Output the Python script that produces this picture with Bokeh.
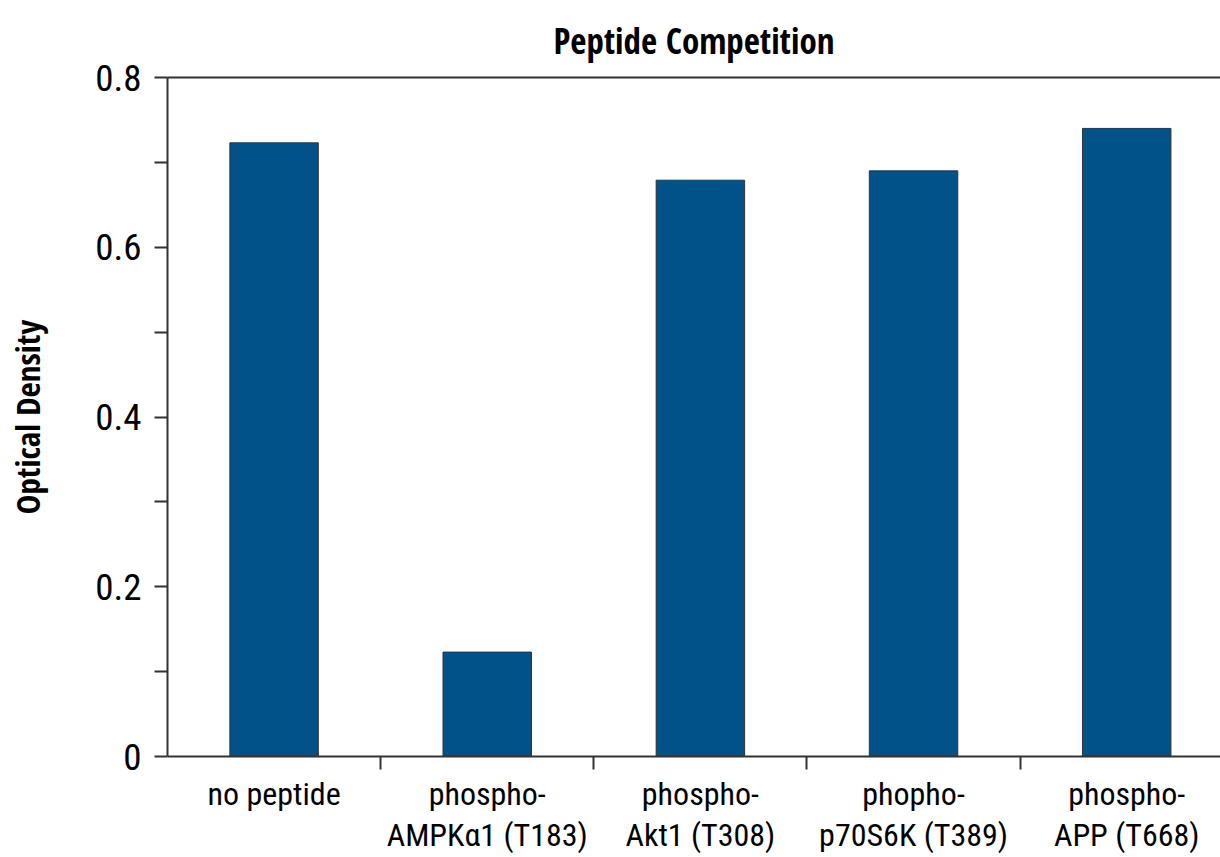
from bokeh.plotting import figure
from bokeh.models import Range1d, FixedTicker, LinearAxis
from bokeh.embed import file_html
from bokeh.resources import INLINE

categories = ["no peptide", "phospho-\nAMPKα1 (T183)", "phospho-\nAkt1 (T308)",
              "phopho-\np70S6K (T389)", "phospho-\nAPP (T668)"]
optical_density = [0.723, 0.123, 0.679, 0.690, 0.740]
y_ticks = [0, 0.2, 0.4, 0.6, 0.8]
y_tick_labels = ["0", "0.2", "0.4", "0.6", "0.8"]
y_minor = [0.1, 0.3, 0.5, 0.7]

AX = "#333333"
REG = "Roboto Condensed"
BOLD = "Open Sans Condensed"
xs = list(range(len(categories)))

p = figure(width=1220, height=857, output_backend="svg", toolbar_location=None,
           x_range=Range1d(-0.5, 4.44), y_range=Range1d(0, 0.8),
           min_border_left=167, min_border_right=0, min_border_top=77, min_border_bottom=100)
p.title.text = "Peptide Competition"
p.title.align = "center"
p.title.text_font = BOLD
p.title.text_font_size = "35px"
p.title.text_font_style = "bold"
p.title.text_color = "#000000"
p.title.standoff = 28

p.vbar(x=xs, top=optical_density, width=0.415, fill_color="#02528a",
       line_color="#333333", line_width=1)

p.grid.visible = False
p.outline_line_color = None

xa = p.xaxis[0]
xa.ticker = FixedTicker(ticks=xs, minor_ticks=[i + 0.5 for i in xs])
xa.major_label_overrides = {i: c for i, c in enumerate(categories)}
xa.major_tick_out = 0
xa.major_tick_in = 0
xa.minor_tick_out = 13
xa.minor_tick_in = 0
xa.minor_tick_line_width = 2
xa.minor_tick_line_color = AX
xa.axis_line_width = 2
xa.axis_line_color = AX
xa.major_label_text_font = REG
xa.major_label_text_font_size = "32px"
xa.major_label_text_color = "#000000"
xa.major_label_standoff = 5
xa.major_label_text_line_height = 1.1

ya = p.yaxis[0]
ya.ticker = FixedTicker(ticks=y_ticks, minor_ticks=y_minor)
ya.major_label_overrides = {t: l for t, l in zip(y_ticks, y_tick_labels)}
ya.major_tick_out = 13
ya.major_tick_in = 0
ya.minor_tick_out = 13
ya.minor_tick_in = 0
ya.major_tick_line_width = 2
ya.minor_tick_line_width = 2
ya.major_tick_line_color = AX
ya.minor_tick_line_color = AX
ya.axis_line_width = 2
ya.axis_line_color = AX
ya.major_label_text_font = REG
ya.major_label_text_font_size = "37px"
ya.major_label_text_color = "#000000"
ya.major_label_standoff = 13
ya.axis_label = "Optical Density"
ya.axis_label_text_font = BOLD
ya.axis_label_text_font_size = "33px"
ya.axis_label_text_font_style = "bold"
ya.axis_label_text_color = "#000000"
ya.axis_label_standoff = 42

top = LinearAxis(ticker=FixedTicker(ticks=[]), axis_line_width=2, axis_line_color=AX,
                 major_tick_out=0, major_tick_in=0, minor_tick_out=0, minor_tick_in=0,
                 major_label_standoff=0)
p.add_layout(top, "above")

open("out.html", "w").write(file_html(p, INLINE))
